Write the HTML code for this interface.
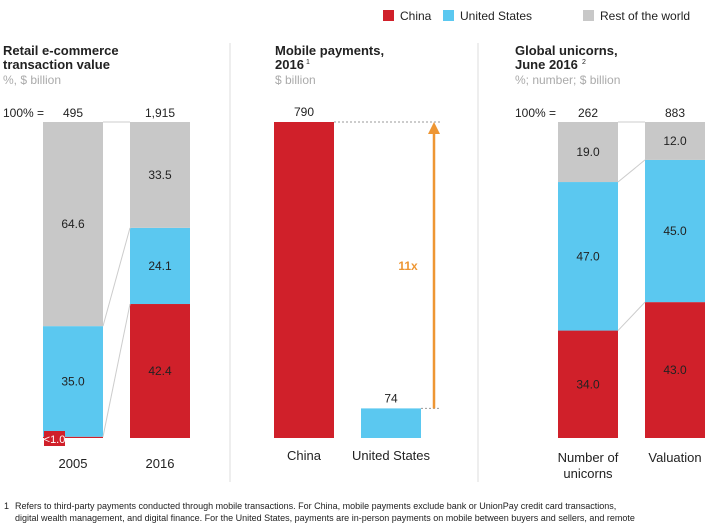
<!DOCTYPE html>
<html><head><meta charset="utf-8"><style>
body{margin:0;width:716px;height:526px;background:#fff;overflow:hidden;font-family:"Liberation Sans",Arial,sans-serif}
svg text{font-family:"Liberation Sans",Arial,sans-serif}
</style></head><body>
<svg id="c" width="716" height="526"></svg>
<script>
const retailCats=['2005','2016'];
const retailTotals=['495','1,915'];
const retailChina=[0.4,42.4];
const retailUS=[35.0,24.1];
const retailRest=[64.6,33.5];
const retailLabels=[['<1.0','35.0','64.6'],['42.4','24.1','33.5']];
const payCats=['China','United States'];
const payValues=[790,74];
const unicornCats=[['Number of','unicorns'],['Valuation']];
const unicornTotals=['262','883'];
const unicornChina=[34.0,43.0];
const unicornUS=[47.0,45.0];
const unicornRest=[19.0,12.0];

const RED='#d0202a',BLUE='#5bc8f0',GRAY='#c8c8c8',ORANGE='#ee9633';
const svg=document.getElementById('c');const NS='http://www.w3.org/2000/svg';
function el(t,a,p){const e=document.createElementNS(NS,t);for(const k in a)e.setAttribute(k,a[k]);(p||svg).appendChild(e);return e;}
function txt(x,y,s,o){o=o||{};const e=el('text',{x:x,y:y,'font-size':o.fs||13,fill:o.fill||'#222','text-anchor':o.a||'start','font-weight':o.fw||'normal'});e.textContent=s;return e;}
const TOP=122,BOT=438,H=BOT-TOP;
function yPct(p){return BOT-p/100*H;}

// legend
[[RED,'China',383],[BLUE,'United States',443],[GRAY,'Rest of the world',583]].forEach(([c,l,x])=>{
 const r=el('rect',{x:x,y:10,width:11,height:11,fill:c});
 
 
 const t=txt(x+17,20,l,{fs:12});
 
 
});
// dividers
[230,478].forEach(x=>{const l=el('line',{x1:x,y1:43,x2:x,y2:482,stroke:'#ddd','stroke-width':1});});

function title(x,lines,sub){lines.forEach((s,i)=>{const t=txt(x,55+i*14,s,{fs:13,fw:'bold'});});
 const t=txt(x,55+lines.length*14+1,sub,{fs:12,fill:'#aaa'});return t;}
title(3,['Retail e-commerce','transaction value'],'%, $ billion');
title(275,['Mobile payments,','2016'],'$ billion');
txt(306,64,'1',{fs:7});
title(515,['Global unicorns,','June 2016'],'%; number; $ billion');
txt(582,64,'2',{fs:7});

function stacked(xs,w,china,us,rest,labels,totals,cats,hundredX,catY){
 const t=txt(hundredX,117,'100% =',{fs:12});
 const bounds=[];const smalls=[];
 xs.forEach((x,i)=>{
  const segs=[[china[i],RED,'china'],[us[i],BLUE,'us'],[rest[i],GRAY,'rest']];
  let cum=0;const b=[BOT];
  segs.forEach(([v,c,n],j)=>{
   const y1=yPct(cum),y0=yPct(cum+v);
   const r=el('rect',{x:x,y:y0,width:w,height:Math.max(y1-y0,0.5),fill:c});
   
   
   cum+=v;b.push(y0);
   const lab=labels[i][j];
   if(v<3){smalls.push([x,y1,lab]);}
   else{const tt=txt(x+w/2,(y0+y1)/2+4,lab,{fs:12,a:'middle'});}
  });
  bounds.push(b);
  const tt=txt(x+w/2,117,totals[i],{fs:12,a:'middle'});
  (Array.isArray(cats[i])?cats[i]:[cats[i]]).forEach((s,k)=>{const c=txt(x+w/2,catY+k*16,s,{fs:13,a:'middle'});});
 });
 smalls.forEach(([x,y1,lab])=>{
  const bx=el('rect',{x:x+1,y:y1-7,width:21,height:15,fill:RED});
  
  txt(x+11.5,y1+5,lab,{fs:11,fill:'#fff',a:'middle'});
 });
 for(let k=1;k<bounds[0].length;k++){const l=el('line',{x1:xs[0]+w,y1:bounds[0][k],x2:xs[1],y2:bounds[1][k],stroke:'#ccc','stroke-width':1});}
}
stacked([43,130],60,retailChina,retailUS,retailRest,retailLabels,retailTotals,retailCats,3,468);
stacked([558,645],60,unicornChina,unicornUS,unicornRest,
 [0,1].map(i=>[unicornChina[i].toFixed(1),unicornUS[i].toFixed(1),unicornRest[i].toFixed(1)]),
 unicornTotals,unicornCats,515,462);

// mobile payments
const pmax=payValues[0];const px=[274,361];const ys=[];
payValues.forEach((v,i)=>{const y=BOT-v/pmax*H;ys.push(y);
 const r=el('rect',{x:px[i],y:y,width:60,height:BOT-y,fill:i==0?RED:BLUE});
 
 const t=txt(px[i]+30,y-6,String(v),{fs:12,a:'middle'});
 const c=txt(px[i]+30,460,payCats[i],{fs:13,a:'middle'});
});
el('line',{x1:334,y1:ys[0],x2:440,y2:ys[0],stroke:'#999','stroke-dasharray':'2,2'});
el('line',{x1:421,y1:ys[1],x2:440,y2:ys[1],stroke:'#999','stroke-dasharray':'2,2'});
const ar=el('line',{x1:434,y1:ys[1],x2:434,y2:ys[0]+10,stroke:ORANGE,'stroke-width':2.5});

el('polygon',{points:`428,${ys[0]+12} 440,${ys[0]+12} 434,${ys[0]}`,fill:ORANGE});
const m=txt(408,270,Math.round(payValues[0]/payValues[1])+'x',{fs:12,fw:'bold',fill:ORANGE,a:'middle'});


// footnote
txt(4,509,'1',{fs:9});
const f1=txt(15,509,'Refers to third-party payments conducted through mobile transactions. For China, mobile payments exclude bank or UnionPay credit card transactions,',{fs:9});

txt(15,521,'digital wealth management, and digital finance. For the United States, payments are in-person payments on mobile between buyers and sellers, and remote',{fs:9});
</script>
</body></html>
